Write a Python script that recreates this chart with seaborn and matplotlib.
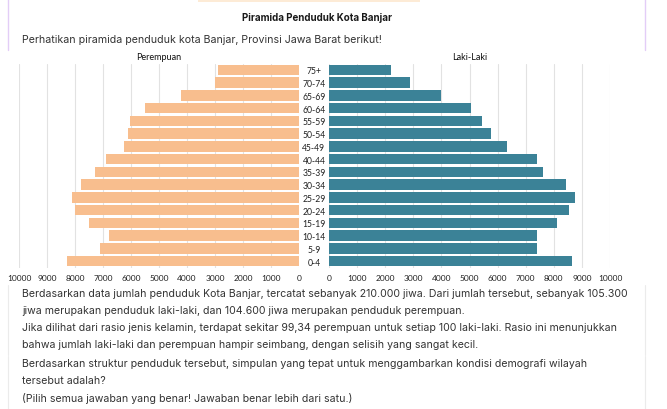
import matplotlib
matplotlib.use("Agg")
import matplotlib.pyplot as plt
import seaborn as sns
import pandas as pd
from matplotlib.lines import Line2D
from matplotlib.patches import Rectangle

age_groups = ["75+", "70-74", "65-69", "60-64", "55-59", "50-54", "45-49", "40-44",
              "35-39", "30-34", "25-29", "20-24", "15-19", "10-14", "5-9", "0-4"]
perempuan = [2900, 3000, 4200, 5500, 6050, 6100, 6250, 6900,
             7300, 7800, 8100, 8000, 7500, 6800, 7100, 8300]
laki_laki = [2200, 2900, 4000, 5050, 5450, 5750, 6350, 7400,
             7600, 8450, 8750, 8550, 8100, 7400, 7400, 8650]
x_ticks = list(range(0, 10001, 1000))

title = "Piramida Penduduk Kota Banjar"
subtitle = "Perhatikan piramida penduduk kota Banjar, Provinsi Jawa Barat berikut!"
body_lines = [
    "Berdasarkan data jumlah penduduk Kota Banjar, tercatat sebanyak 210.000 jiwa. Dari jumlah tersebut, sebanyak 105.300",
    "jiwa merupakan penduduk laki-laki, dan 104.600 jiwa merupakan penduduk perempuan.",
    "Jika dilihat dari rasio jenis kelamin, terdapat sekitar 99,34 perempuan untuk setiap 100 laki-laki. Rasio ini menunjukkan",
    "bahwa jumlah laki-laki dan perempuan hampir seimbang, dengan selisih yang sangat kecil.",
    "Berdasarkan struktur penduduk tersebut, simpulan yang tepat untuk menggambarkan kondisi demografi wilayah",
    "tersebut adalah?",
    "(Pilih semua jawaban yang benar! Jawaban benar lebih dari satu.)",
]
body_y = [294, 311, 328, 345, 364, 381, 399]

df = pd.DataFrame({"age": age_groups, "Perempuan": perempuan, "Laki-Laki": laki_laki})

sns.set_theme(style="white")
plt.rcParams["font.family"] = ["Lato", "DejaVu Sans"]

W, H = 667, 410
fig = plt.figure(figsize=(W / 100, H / 100), dpi=100)
fig.patch.set_facecolor("white")

def fx(px):
    return px / W

def fy(py):
    return 1 - py / H

ax_top, ax_bot = 64.5, 268.5
axL = fig.add_axes([fx(19), fy(ax_bot), fx(280), (ax_bot - ax_top) / H])
axR = fig.add_axes([fx(329), fy(ax_bot), fx(281), (ax_bot - ax_top) / H])

orange = "#F8BE8E"
teal = "#3B8297"

sns.barplot(data=df, y="age", x="Perempuan", order=age_groups, color=orange,
            saturation=1, width=0.82, ax=axL, edgecolor="none")
sns.barplot(data=df, y="age", x="Laki-Laki", order=age_groups, color=teal,
            saturation=1, width=0.82, ax=axR, edgecolor="none")

for ax in (axL, axR):
    ax.set_xlim(0, 10000)
    ax.set_xticks(x_ticks)
    ax.set_xticklabels([str(t) for t in x_ticks])
    ax.set_ylim(15.5, -0.5)
    ax.grid(axis="x", color="#E2E2E2", linewidth=0.8)
    ax.set_axisbelow(True)
    for s in ax.spines.values():
        s.set_visible(False)
    ax.set_xlabel("")
    ax.set_ylabel("")
    ax.tick_params(axis="x", length=0, pad=5, labelsize=6, colors="#222222")

axL.invert_xaxis()
axL.set_yticks([])
axR.set_yticks(range(len(age_groups)))
axR.set_yticklabels(age_groups)
axR.tick_params(axis="y", length=0, pad=10.8, labelsize=6.2, colors="#222222")
for lab in axR.get_yticklabels():
    lab.set_horizontalalignment("center")

axL.set_title("Perempuan", fontsize=6.5, pad=3, color="#111111")
axR.set_title("Laki-Laki", fontsize=6.5, pad=3, color="#111111")

# decorations
fig.add_artist(Rectangle((fx(198), fy(3)), fx(222), 3 / H, transform=fig.transFigure,
                         facecolor="#FDEBD6", edgecolor="none"))
for xp in (8, 645):
    fig.add_artist(Line2D([fx(xp), fx(xp)], [fy(0), fy(51)], transform=fig.transFigure,
                          color="#E3CDF7", linewidth=1))
    fig.add_artist(Line2D([fx(xp), fx(xp)], [fy(286), fy(356)], transform=fig.transFigure,
                          color="#EBEBEB", linewidth=0.8))
    fig.add_artist(Line2D([fx(xp), fx(xp)], [fy(357), fy(410)], transform=fig.transFigure,
                          color="#EBEBEB", linewidth=0.8))

fig.text(fx(317), fy(18), title, ha="center", va="center", fontsize=7,
         fontweight="bold", family=["Inter", "DejaVu Sans"], color="#1a1a1a")
fig.text(fx(22), fy(40), subtitle, ha="left", va="center", fontsize=7.65,
         family=["Inter", "DejaVu Sans"], color="#333333")
for line, yp in zip(body_lines, body_y):
    fig.text(fx(22), fy(yp), line, ha="left", va="center", fontsize=7.6,
             family=["Inter", "DejaVu Sans"], color="#333333")

fig.savefig("out.png", dpi=100)
